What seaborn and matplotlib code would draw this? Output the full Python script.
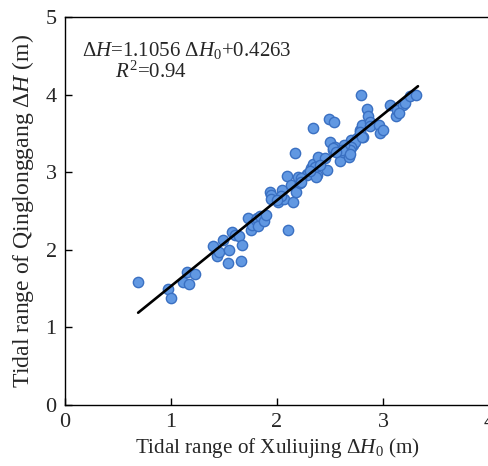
import numpy as np
import pandas as pd
import matplotlib
matplotlib.use('Agg')
from matplotlib import pyplot as plt
import seaborn as sns

sns.set_style('ticks')
plt.rcParams['font.family'] = ['Liberation Serif', 'DejaVu Serif']
plt.rcParams['mathtext.fontset'] = 'custom'
plt.rcParams['mathtext.rm'] = 'Liberation Serif'
plt.rcParams['mathtext.it'] = 'Liberation Serif:italic'

# tidal range pairs
xuliujing = [0.69, 0.97, 1.00, 1.11, 1.15, 1.17, 1.23, 1.40, 1.43, 1.45,
             1.49, 1.54, 1.55, 1.58, 1.60, 1.64, 1.67, 1.66, 1.73, 1.75,
             1.76, 1.80, 1.81, 1.82, 1.84, 1.88, 1.90, 1.93, 1.94, 1.94,
             2.01, 2.05, 2.07, 2.09, 2.10, 2.13, 2.15, 2.17, 2.18, 2.20,
             2.22, 2.28, 2.32, 2.34, 2.34, 2.38, 2.39, 2.45, 2.47, 2.49,
             2.50, 2.53, 2.54, 2.55, 2.59, 2.62, 2.68, 2.68, 2.70, 2.72,
             2.75, 2.78, 2.79, 2.80, 2.81, 2.85, 2.86, 2.88, 2.88, 2.96,
             2.97, 3.00, 3.07, 3.12, 3.13, 3.19, 3.21, 3.25, 3.31, 3.15,
             2.78, 2.74, 2.80, 2.70, 2.69, 2.63, 2.61, 2.69, 2.53, 2.56,
             2.36, 2.41, 2.28, 2.23, 2.37, 2.31, 2.23, 2.04, 2.00]
qinglonggang = [1.59, 1.50, 1.38, 1.58, 1.71, 1.56, 1.69, 2.05, 1.92, 1.97,
                2.13, 1.83, 2.00, 2.23, 2.19, 2.18, 2.06, 1.86, 2.41, 2.26,
                2.32, 2.39, 2.41, 2.31, 2.43, 2.37, 2.45, 2.75, 2.71, 2.65,
                2.61, 2.77, 2.66, 2.95, 2.26, 2.83, 2.61, 3.25, 2.75, 2.94,
                2.86, 2.98, 3.06, 3.11, 3.57, 2.96, 3.20, 3.18, 3.03, 3.69,
                3.39, 3.29, 3.65, 3.32, 3.14, 3.26, 3.31, 3.19, 3.41, 3.35,
                3.44, 3.54, 4.00, 3.61, 3.45, 3.81, 3.72, 3.65, 3.59, 3.61,
                3.50, 3.54, 3.87, 3.73, 3.80, 3.87, 3.89, 3.98, 3.99, 3.76,
                3.52, 3.39, 3.46, 3.33, 3.29, 3.35, 3.29, 3.24, 3.31, 3.26,
                3.07, 3.09, 2.96, 2.92, 2.94, 3.01, 2.88, 2.69, 2.64]

slope = 1.1056
intercept = 0.4263
fit_range = [0.69, 3.33]

df = pd.DataFrame({'x': xuliujing, 'y': qinglonggang})
fit = pd.DataFrame({'x': fit_range})
fit['y'] = slope * fit['x'] + intercept

fig = plt.figure(figsize=(4.88, 4.66), dpi=100)
ax = fig.add_axes([65 / 488, 61 / 466, 424 / 488, 388 / 466])

sns.scatterplot(data=df, x='x', y='y', ax=ax, s=55, color='#6198E2',
                edgecolor='#3A70C2', linewidth=1.0, zorder=2)
sns.lineplot(data=fit, x='x', y='y', ax=ax, color='black', linewidth=1.9,
             zorder=3)

ax.set_xlim(0, 4)
ax.set_ylim(0, 5)
ax.set_xticks([0, 1, 2, 3, 4])
ax.set_yticks([0, 1, 2, 3, 4, 5])
ax.tick_params(direction='in', length=5, width=1, labelsize=16, pad=6,
               color='black')
for sp in ax.spines.values():
    sp.set_color('black')
    sp.set_linewidth(1.0)

ax.set_xlabel(r'Tidal range of Xuliujing $\Delta H_0$ (m)', fontsize=15.2,
              labelpad=3)
ax.set_ylabel(r'Tidal range of Qinglonggang $\Delta H$ (m)', fontsize=17,
              labelpad=7)

ax.text(0.16, 4.70, r'$\Delta H$=1.1056 $\Delta H_0$+0.4263', fontsize=15,
        va='top', ha='left')
ax.text(0.47, 4.42, r'$R^2$=0.94', fontsize=15, va='top', ha='left')

plt.savefig('out.png', dpi=100)
